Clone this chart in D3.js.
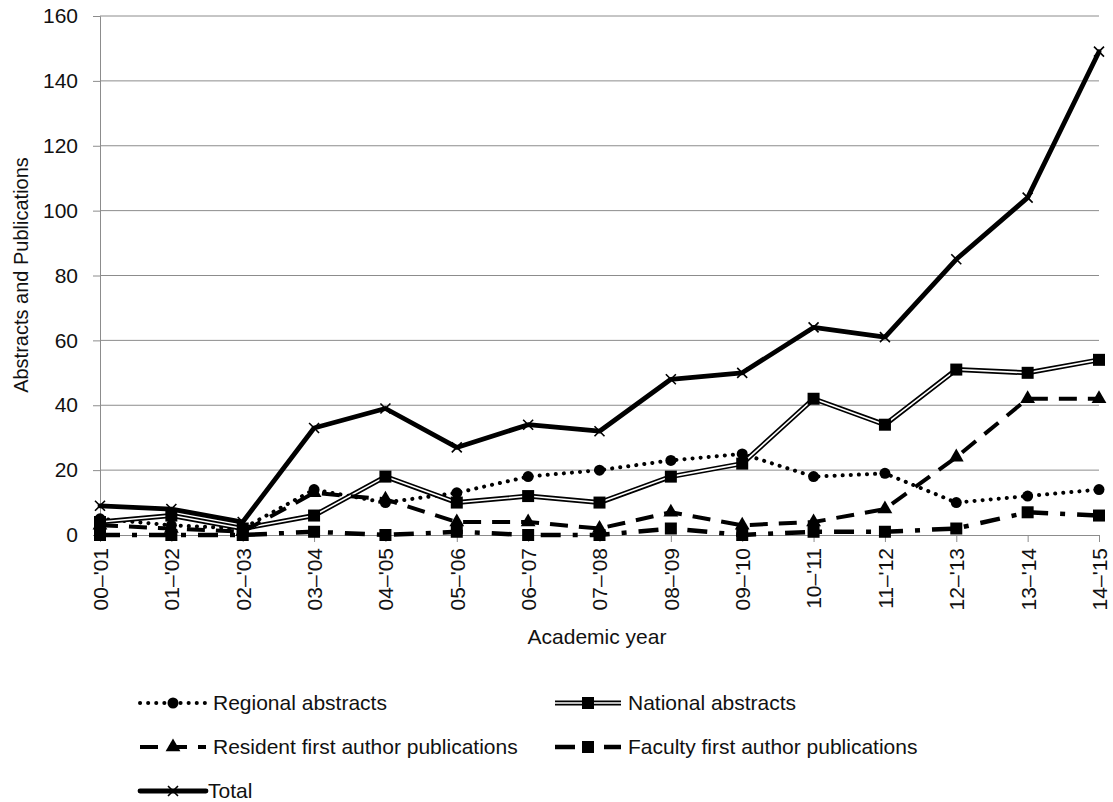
<!DOCTYPE html>
<html><head><meta charset="utf-8">
<script src="https://cdn.jsdelivr.net/npm/d3@7"></script>
<style>body{margin:0;background:#fff}svg{display:block;font-family:"Liberation Sans",Arial,sans-serif}</style>
</head><body><svg id="c" width="1113" height="802"></svg>
<script>
const years = ["00\u2013'01","01\u2013'02","02\u2013'03","03\u2013'04","04\u2013'05","05\u2013'06","06\u2013'07","07\u2013'08","08\u2013'09","09\u2013'10","10\u2013'11","11\u2013'12","12\u2013'13","13\u2013'14","14\u2013'15"];
const regional = [5,3,2,14,10,13,18,20,23,25,18,19,10,12,14];
const national = [4,6,2,6,18,10,12,10,18,22,42,34,51,50,54];
const resident = [3,2,1,13,11,4,4,2,7,3,4,8,24,42,42];
const faculty = [0,0,0,1,0,1,0,0,2,0,1,1,2,7,6];
const total = [9,8,4,33,39,27,34,32,48,50,64,61,85,104,149];
const yTicks = [0,20,40,60,80,100,120,140,160];
const seriesNames = ["Regional abstracts","National abstracts","Resident first author publications","Faculty first author publications","Total"];

const FS = 21;
const svg = d3.select("#c");
const L=100,R=1099,T=16,B=535;
const x = d3.scalePoint().domain(years).range([L,R]).padding(0);
const y = d3.scaleLinear().domain([0,160]).range([B,T]);

// grid
svg.append("g").selectAll("line").data(yTicks.filter(d=>d>0)).join("line")
 .attr("x1",L).attr("x2",R).attr("y1",d=>y(d)).attr("y2",d=>y(d))
 .attr("stroke","#8c8c8c").attr("stroke-width",1);

// y axis
const ya = svg.append("g").attr("transform",`translate(${L},0)`).call(d3.axisLeft(y).tickValues(yTicks).tickSize(7).tickPadding(15));
ya.select(".domain").attr("stroke","#8c8c8c");
ya.selectAll(".tick line").attr("stroke","#8c8c8c");
ya.selectAll("text").attr("font-size",FS).attr("fill","#111").attr("font-family","Liberation Sans, Arial, sans-serif");

// x axis
const xa = svg.append("g").attr("transform",`translate(0,${B})`).call(d3.axisBottom(x).tickSize(7).tickPadding(10));
xa.select(".domain").attr("stroke","#8c8c8c");
xa.selectAll(".tick line").attr("stroke","#8c8c8c");
xa.selectAll("text").attr("font-size",FS).attr("fill","#111").attr("font-family","Liberation Sans, Arial, sans-serif")
 .attr("transform","rotate(-90)").attr("text-anchor","end").attr("dy","0.35em").attr("x",-13).attr("y",0);

svg.append("text").attr("x",597).attr("y",644).attr("text-anchor","middle").attr("font-size",FS).attr("fill","#111").text("Academic year");
svg.append("text").attr("transform","translate(28,275) rotate(-90)").attr("text-anchor","middle").attr("font-size",20).attr("fill","#111").text("Abstracts and Publications");

const line = d3.line().x((d,i)=>x(years[i])).y(d=>y(d));

function marker(g, type, cx, cy){
  if(type==="circle") g.append("circle").attr("cx",cx).attr("cy",cy).attr("r",5.5).attr("fill","#000");
  else if(type==="square") g.append("rect").attr("x",cx-6).attr("y",cy-6).attr("width",12).attr("height",12).attr("fill","#000");
  else if(type==="tri") g.append("path").attr("d",d3.symbol(d3.symbolTriangle,95)()).attr("transform",`translate(${cx},${cy})`).attr("fill","#000");
  else if(type==="x") g.append("path").attr("d",`M${cx-5},${cy-5}L${cx+5},${cy+5}M${cx-5},${cy+5}L${cx+5},${cy-5}`).attr("stroke","#000").attr("stroke-width",1.6);
}

const styles = [
 {data:regional, dash:"0.1 8", w:4, cap:"round", m:"circle"},
 {data:national, dash:null, w:5, double:true, m:"square"},
 {data:resident, dash:"18 11", w:4, cap:"butt", m:"tri"},
 {data:faculty, dash:"20 12 5 12", w:4.5, cap:"butt", m:"square"},
 {data:total, dash:null, w:4.8, cap:"round", m:"x"}
];

const pg = svg.append("g");
styles.forEach(s=>{
  const p = pg.append("path").attr("d",line(s.data)).attr("fill","none").attr("stroke","#000")
   .attr("stroke-width",s.w).attr("stroke-linejoin","round").attr("stroke-linecap",s.cap||"butt");
  if(s.dash) p.attr("stroke-dasharray",s.dash);
  if(s.double) pg.append("path").attr("d",line(s.data)).attr("fill","none").attr("stroke","#fff").attr("stroke-width",1.6).attr("stroke-linejoin","round");
  s.data.forEach((v,i)=>marker(pg,s.m,x(years[i]),y(v)));
});

// legend
const lg = svg.append("g");
const pos = [[140,703],[555,703],[140,747],[555,747],[140,791]];
styles.forEach((s,i)=>{
  const [lx,ly]=pos[i];
  const x2 = lx+66;
  const p = lg.append("line").attr("x1",lx).attr("x2",x2).attr("y1",ly).attr("y2",ly).attr("stroke","#000").attr("stroke-width",s.w).attr("stroke-linecap",s.cap||"butt");
  if(s.dash) p.attr("stroke-dasharray",s.dash);
  if(s.double) lg.append("line").attr("x1",lx).attr("x2",x2).attr("y1",ly).attr("y2",ly).attr("stroke","#fff").attr("stroke-width",1.6);
  marker(lg,s.m,(lx+x2)/2,ly);
  lg.append("text").attr("x",i===4?x2+2:x2+7).attr("y",ly).attr("dy","0.35em").attr("font-size",FS).attr("fill","#111").text(seriesNames[i]);
});
</script></body></html>
